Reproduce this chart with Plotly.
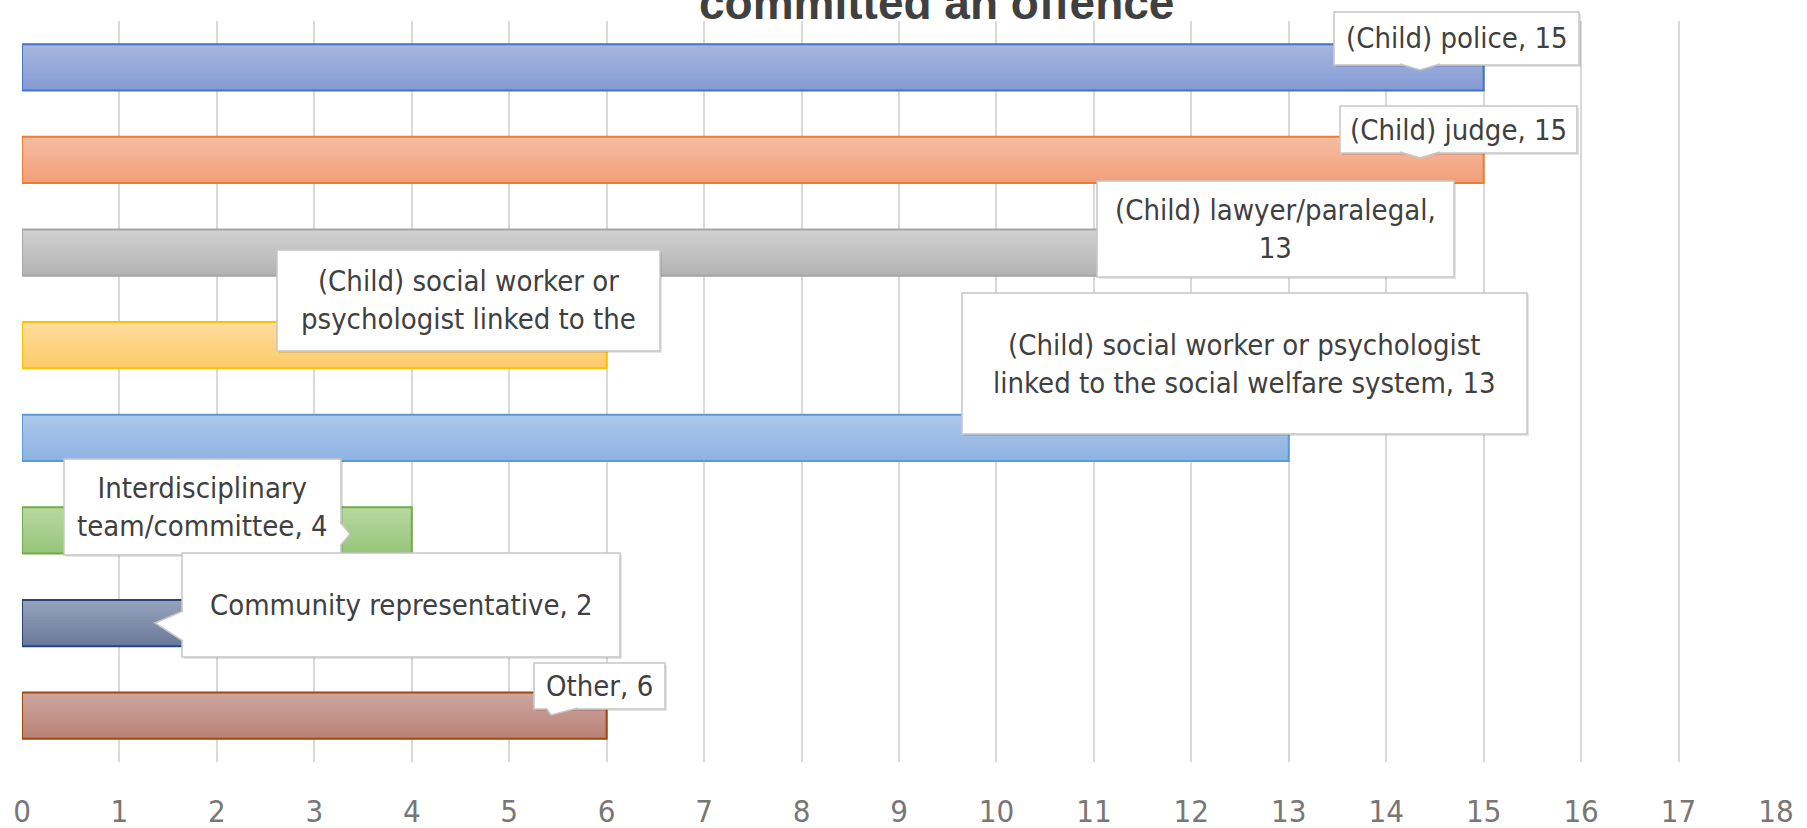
import plotly.graph_objects as go

# ---------------- data ----------------
categories = [
    "(Child) police",
    "(Child) judge",
    "(Child) lawyer/paralegal",
    "(Child) social worker or psychologist linked to the justice system",
    "(Child) social worker or psychologist linked to the social welfare system",
    "Interdisciplinary team/committee",
    "Community representative",
    "Other",
]
values = [15, 15, 13, 6, 13, 4, 2, 6]
label_texts = [
    "(Child) police, 15",
    "(Child) judge, 15",
    "(Child) lawyer/paralegal,<br>13",
    "(Child) social worker or<br>psychologist linked to the",
    "(Child) social worker or psychologist<br>linked to the social welfare system, 13",
    "Interdisciplinary<br>team/committee, 4",
    "Community representative, 2",
    "Other, 6",
]
tick_values = list(range(0, 19))
tick_labels = [str(v) for v in tick_values]
title_text = "committed an offence"

# ---------------- styles ----------------
top_colors = ["#a7b5de", "#f6bca2", "#d1d1d1", "#ffdd9c",
              "#acc7ea", "#b6d8a1", "#97a2bb", "#cca59e"]
bottom_colors = ["#859dd4", "#f29f7a", "#b4b4b4", "#fdcb6b",
                 "#8eb3e2", "#97c57a", "#6b7a9b", "#ba8377"]
line_colors = ["#4472c4", "#ed7d31", "#a5a5a5", "#ffc000",
               "#5b9bd5", "#70ad47", "#264478", "#9e480e"]

W, H = 1807, 828
ML, MR, MT, MB = 22, 31, 21, 66
PW, PH = W - ML - MR, H - MT - MB

# callout boxes in pixel space (x0, x1, y0, y1)
boxes = [
    (1334, 1579, 12, 65),
    (1340, 1577, 106, 153),
    (1097, 1454, 181, 277),
    (277, 660, 250, 351),
    (962, 1527, 293, 434),
    (64, 341, 459, 555),
    (182, 620, 553, 657),
    (534, 665, 663, 709),
]
# pointer triangles: (base1, base2, tip) in pixel space
pointers = [
    ((1400, 64), (1440, 64), (1420, 70)),
    ((1400, 152), (1440, 152), (1420, 158)),
    ((340, 522), (340, 546), (350, 534)),
    ((183, 611), (183, 641), (155, 623)),
    ((546, 708), (578, 708), (551, 715)),
]

LABEL_FONT = "DejaVu Sans Condensed, Liberation Sans Narrow, Arial Narrow, sans-serif"
BAR_WIDTH = 0.5
N_BANDS = 16


def px(x):
    return (x - ML) / PW


def py(y):
    return (H - MB - y) / PH


def hex_to_rgb(h):
    h = h.lstrip("#")
    return tuple(int(h[i:i + 2], 16) for i in (0, 2, 4))


def mix(c1, c2, t):
    a, b = hex_to_rgb(c1), hex_to_rgb(c2)
    return "rgb(%d,%d,%d)" % tuple(round(a[i] + (b[i] - a[i]) * t) for i in range(3))


positions = list(range(len(categories)))

fig = go.Figure()
# gradient fill, drawn as overlapping thin bands of each bar (top -> bottom)
band = BAR_WIDTH / N_BANDS
for k in range(N_BANDS):
    t = k / (N_BANDS - 1)
    off = -BAR_WIDTH / 2 + k * band
    wid = min(2 * band, BAR_WIDTH / 2 - off)
    fig.add_trace(go.Bar(
        x=values, y=positions, orientation="h",
        width=wid, offset=off,
        marker=dict(color=[mix(a, b, t) for a, b in zip(top_colors, bottom_colors)],
                    line=dict(width=0)),
        hoverinfo="skip",
    ))
# outline
fig.add_trace(go.Bar(
    x=values, y=positions, orientation="h",
    width=BAR_WIDTH, offset=-BAR_WIDTH / 2,
    marker=dict(color="rgba(0,0,0,0)", line=dict(color=line_colors, width=2)),
    hovertext=categories, hoverinfo="text+x",
))

shapes = []
annotations = []
for (x0, x1, y0, y1), txt in zip(boxes, label_texts):
    shapes.append(dict(type="rect", xref="paper", yref="paper",
                       x0=px(x0 + 2), x1=px(x1 + 2), y0=py(y1 + 2), y1=py(y0 + 2),
                       fillcolor="rgba(0,0,0,0.10)", line=dict(width=0), layer="above"))
    shapes.append(dict(type="rect", xref="paper", yref="paper",
                       x0=px(x0), x1=px(x1), y0=py(y1), y1=py(y0),
                       fillcolor="white", line=dict(color="#c6c6c6", width=1.5), layer="above"))
    annotations.append(dict(xref="paper", yref="paper",
                            x=px((x0 + x1) / 2), y=py((y0 + y1) / 2),
                            xanchor="center", yanchor="middle", showarrow=False,
                            text=txt, align="center",
                            font=dict(family=LABEL_FONT, size=29, color="#404040")))
for b1, b2, tip in pointers:
    path = (f"M {px(b1[0])},{py(b1[1])} L {px(tip[0])},{py(tip[1])} "
            f"L {px(b2[0])},{py(b2[1])}")
    shapes.append(dict(type="path", xref="paper", yref="paper", path=path,
                       fillcolor="white", line=dict(color="#c6c6c6", width=1.5),
                       layer="above"))

annotations.append(dict(xref="paper", yref="paper", x=px(936), y=1.0,
                        xanchor="center", yanchor="bottom", yshift=-10,
                        showarrow=False, text=title_text,
                        font=dict(family="Liberation Sans, Arial, sans-serif",
                                  size=46, color="#404040", weight="bold")))

fig.update_layout(
    width=W, height=H,
    margin=dict(l=ML, r=MR, t=MT, b=MB, autoexpand=False),
    paper_bgcolor="white", plot_bgcolor="white",
    showlegend=False,
    barmode="overlay",
    shapes=shapes,
    annotations=annotations,
)
fig.update_xaxes(
    range=[0, 18], tickvals=tick_values, ticktext=tick_labels,
    showgrid=True, gridcolor="#d9d9d9", gridwidth=2,
    zeroline=False, showline=False, ticks="",
    ticklabelstandoff=28, automargin=False,
    tickfont=dict(family=LABEL_FONT, size=31, color="#777777"),
    fixedrange=True,
)
fig.update_yaxes(
    range=[7.5, -0.5], showticklabels=False, showgrid=False,
    zeroline=False, showline=False, ticks="", fixedrange=True, automargin=False,
)

fig.write_html("out.html", config={"displayModeBar": False},
               post_script="document.body.style.margin='0';")
